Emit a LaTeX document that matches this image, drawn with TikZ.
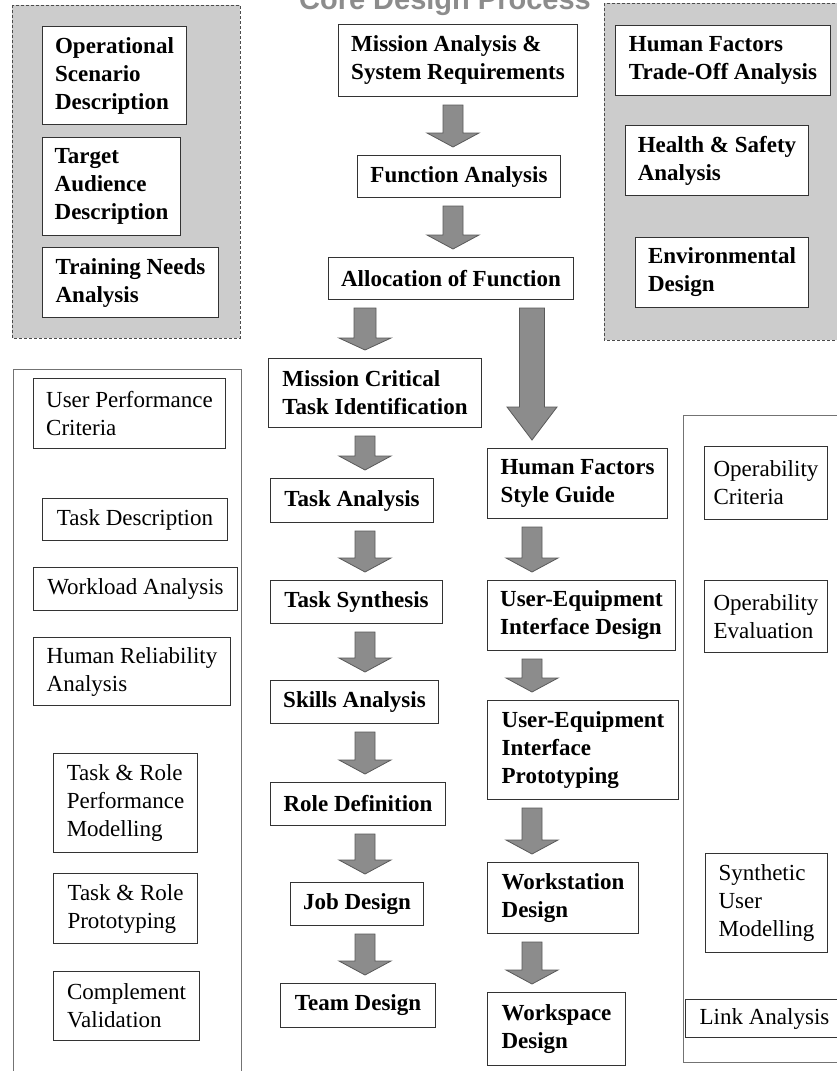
\documentclass[tikz,border=0pt]{standalone}
\usepackage{fontspec}
\setmainfont{Liberation Serif}
\newfontfamily\titlefont{Liberation Sans}
\usetikzlibrary{calc}

\tikzstyle{panel}=[draw=black!70,fill=black!20,line width=1pt,dash pattern=on 3pt off 2pt]
\tikzstyle{sidepanel}=[draw=black!55,line width=0.8pt]
\tikzstyle{corebox}=[rectangle,draw=black!80,fill=white,line width=1pt,align=left,anchor=north west,inner sep=0pt,font=\fontsize{23}{28}\selectfont\bfseries]
\tikzstyle{toolbox}=[corebox,font=\fontsize{23}{28}\selectfont\mdseries]
\tikzstyle{blockarrow}=[draw=black!65,fill=black!45,line width=0.8pt,line join=miter]

% block arrow: column, from node, to node, shaft half width, head half width, head length
\newcommand{\blockdown}[6]{%
  \path (#1 |- #2.south) coordinate (from) (#1 |- #3.north) coordinate (to);
  \filldraw[blockarrow] ($(from)+(-#4,8)$) -- ($(from)+(#4,8)$) -- ($(to)+(#4,-8-#6)$)
    -- ($(to)+(#5,-8-#6)$) -- ($(to)+(0,-8)$) -- ($(to)+(-#5,-8-#6)$)
    -- ($(to)+(-#4,-8-#6)$) -- cycle;
}

\begin{document}
\begin{tikzpicture}[x=1pt,y=-1pt]
			\clip (0,0) rectangle (837,1071);
			\useasboundingbox (0,0) rectangle (837,1071);
			
			% title, cut at the top
			\node (title) at (445,9) [anchor=base,text=black!45,font=\titlefont\fontsize{29}{32}\selectfont\bfseries] {Core Design Process};
			
			% grey panels
			\draw [panel] (12,5) rectangle (240,338);
			\draw [panel] (604,3) rectangle (850,340);
			\draw [sidepanel] (13,369) rectangle (241,1090);
			\draw [sidepanel] (683,415) rectangle (850,1062);
			
			\node (osd) at (42,26) [corebox,minimum width=144,minimum height=98] {Operational\\Scenario\\Description};
			\node (tad) at (42,137) [corebox,minimum width=138,minimum height=98] {Target\\Audience\\Description};
			\node (tna) at (42,247) [corebox,minimum width=176,minimum height=70] {Training Needs\\Analysis};
			
			\node (hft) at (615,25) [corebox,minimum width=215,minimum height=70] {Human Factors\\Trade-Off Analysis};
			\node (hsa) at (625,125) [corebox,minimum width=183,minimum height=70] {Health \& Safety\\Analysis};
			\node (env) at (635,237) [corebox,minimum width=173,minimum height=70] {Environmental\\Design};
			
			% core column
			\node (mission) at (338,24) [corebox,minimum width=239,minimum height=72] {Mission Analysis \&\\System Requirements};
			\node (func) at (357,155) [corebox,minimum width=203,minimum height=42] {Function Analysis};
			\node (alloc) at (328,257) [corebox,minimum width=245,minimum height=42] {Allocation of Function};
			\node (mcti) at (268,358) [corebox,minimum width=213,minimum height=69] {Mission Critical\\Task Identification};
			\node (taska) at (270,478) [corebox,minimum width=163,minimum height=44] {Task Analysis};
			\node (tasks) at (270,580) [corebox,minimum width=172,minimum height=43] {Task Synthesis};
			\node (skills) at (270,680) [corebox,minimum width=168,minimum height=43] {Skills Analysis};
			\node (role) at (270,782) [corebox,minimum width=175,minimum height=43] {Role Definition};
			\node (job) at (290,882) [corebox,minimum width=133,minimum height=43] {Job Design};
			\node (team) at (280,983) [corebox,minimum width=155,minimum height=44] {Team Design};
			
			\node (hfsg) at (487,448) [corebox,minimum width=180,minimum height=70] {Human Factors\\Style Guide};
			\node (uid) at (487,580) [corebox,minimum width=188,minimum height=70] {User-Equipment\\Interface Design};
			\node (uip) at (487,700) [corebox,minimum width=191,minimum height=99] {User-Equipment\\Interface\\Prototyping};
			\node (ws) at (487,862) [corebox,minimum width=151,minimum height=71] {Workstation\\Design};
			\node (wsp) at (487,992) [corebox,minimum width=138,minimum height=73] {Workspace\\Design};
			
			% left tools
			\node (upc) at (33,378) [toolbox,minimum width=192,minimum height=70] {User Performance\\Criteria};
			\node (tdesc) at (42,498) [toolbox,minimum width=185,minimum height=42] {Task Description};
			\node (wla) at (33,567) [toolbox,minimum width=204,minimum height=43] {Workload Analysis};
			\node (hra) at (33,637) [toolbox,minimum width=197,minimum height=68] {Human Reliability\\Analysis};
			\node (trpm) at (53,753) [toolbox,minimum width=144,minimum height=99] {Task \& Role\\Performance\\Modelling};
			\node (trp) at (53,873) [toolbox,minimum width=144,minimum height=70] {Task \& Role\\Prototyping};
			\node (cv) at (53,971) [toolbox,minimum width=146,minimum height=69] {Complement\\Validation};
			
			% right tools
			\node (opc) at (704,446) [toolbox,minimum width=123,minimum height=73] {Operability\\Criteria};
			\node (ope) at (704,580) [toolbox,minimum width=123,minimum height=72] {Operability\\Evaluation};
			\node (sum) at (705,853) [toolbox,minimum width=122,minimum height=99] {Synthetic\\User\\Modelling};
			\node (link) at (685,999) [toolbox,minimum width=158,minimum height=38] {Link Analysis};
			
			\coordinate (topcol) at (453,0);
			\coordinate (leftcol) at (365,0);
			\coordinate (rightcol) at (532,0);
			
			\blockdown{topcol}{mission}{func}{10}{26}{14}
			\blockdown{topcol}{func}{alloc}{10}{26}{14}
			\blockdown{leftcol}{alloc}{mcti}{11}{26}{12}
			\blockdown{rightcol}{alloc}{hfsg}{12.5}{25}{33}
			\blockdown{leftcol}{mcti}{taska}{10}{26}{14}
			\blockdown{leftcol}{taska}{tasks}{10}{26}{14}
			\blockdown{leftcol}{tasks}{skills}{10}{26}{14}
			\blockdown{leftcol}{skills}{role}{10}{26}{14}
			\blockdown{leftcol}{role}{job}{10}{26}{14}
			\blockdown{leftcol}{job}{team}{10}{26}{14}
			\blockdown{rightcol}{hfsg}{uid}{10}{26}{14}
			\blockdown{rightcol}{uid}{uip}{10}{26}{14}
			\blockdown{rightcol}{uip}{ws}{10}{26}{14}
			\blockdown{rightcol}{ws}{wsp}{10}{26}{14}
		\end{tikzpicture}
\end{document}
